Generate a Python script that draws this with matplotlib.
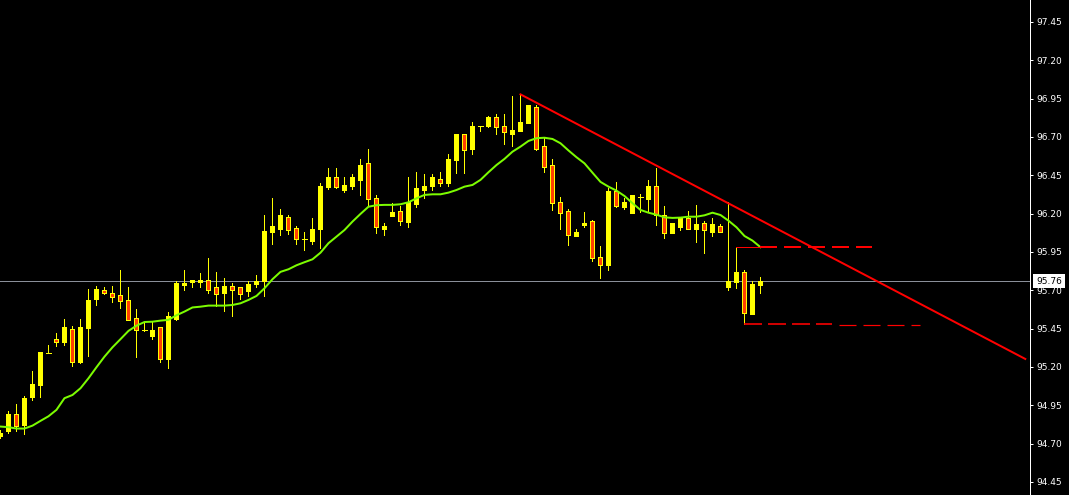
import matplotlib
matplotlib.use("Agg")
import matplotlib.pyplot as plt
from matplotlib.patches import Rectangle
import matplotlib.transforms as mtransforms

# ---------------- data ----------------
opens = [94.750, 94.785, 94.893, 94.824, 95.006, 95.085, 95.294, 95.383, 95.365, 95.448,
         95.235, 95.456, 95.645, 95.702, 95.683, 95.670, 95.637, 95.520, 95.439, 95.402,
         95.461, 95.254, 95.515, 95.737, 95.756, 95.756, 95.767, 95.722, 95.685, 95.728,
         95.722, 95.698, 95.741, 95.761, 96.082, 96.100, 96.178, 96.107, 96.037, 96.024,
         96.100, 96.376, 96.439, 96.356, 96.382, 96.422, 96.530, 96.302, 96.100, 96.185,
         96.217, 96.146, 96.263, 96.354, 96.380, 96.426, 96.400, 96.550, 96.720, 96.622,
         96.772, 96.772, 96.830, 96.772, 96.720, 96.739, 96.791, 96.896, 96.641, 96.517,
         96.276, 96.217, 96.054, 96.126, 96.152, 95.917, 95.865, 96.348, 96.243, 96.204,
         96.309, 96.296, 96.380, 96.191, 96.074, 96.113, 96.172, 96.100, 96.139, 96.080,
         96.120, 95.722, 95.754, 95.820, 95.546, 95.735]

highs = [94.789, 94.913, 94.959, 95.011, 95.174, 95.298, 95.343, 95.422, 95.513, 95.467,
         95.513, 95.709, 95.728, 95.720, 95.728, 95.833, 95.722, 95.578, 95.492, 95.493,
         95.463, 95.559, 95.759, 95.833, 95.767, 95.813, 95.911, 95.820, 95.780, 95.748,
         95.724, 95.761, 95.800, 96.191, 96.302, 96.230, 96.191, 96.120, 96.080, 96.172,
         96.400, 96.498, 96.498, 96.439, 96.459, 96.557, 96.622, 96.322, 96.139, 96.270,
         96.250, 96.439, 96.472, 96.459, 96.459, 96.472, 96.589, 96.720, 96.722, 96.798,
         96.774, 96.837, 96.850, 96.850, 96.967, 96.974, 96.909, 96.909, 96.693, 96.557,
         96.309, 96.230, 96.100, 96.211, 96.159, 95.989, 96.367, 96.407, 96.302, 96.324,
         96.328, 96.420, 96.498, 96.250, 96.141, 96.174, 96.217, 96.257, 96.152, 96.172,
         96.133, 96.276, 95.983, 95.833, 95.761, 95.787]

lows = [94.737, 94.770, 94.785, 94.763, 94.985, 95.006, 95.291, 95.339, 95.343, 95.207,
        95.226, 95.274, 95.606, 95.678, 95.626, 95.587, 95.505, 95.267, 95.435, 95.383,
        95.235, 95.195, 95.507, 95.704, 95.724, 95.722, 95.685, 95.600, 95.567, 95.535,
        95.645, 95.665, 95.724, 95.665, 96.004, 96.063, 96.069, 96.004, 95.963, 96.004,
        95.978, 96.363, 96.369, 96.343, 96.363, 96.324, 96.252, 96.076, 96.061, 96.183,
        96.126, 96.113, 96.243, 96.302, 96.354, 96.380, 96.380, 96.465, 96.465, 96.589,
        96.739, 96.765, 96.720, 96.654, 96.641, 96.737, 96.789, 96.615, 96.472, 96.224,
        96.100, 95.996, 96.052, 96.113, 95.891, 95.780, 95.833, 96.243, 96.230, 96.202,
        96.211, 96.211, 96.126, 96.041, 96.072, 96.093, 96.098, 96.015, 95.943, 96.054,
        96.078, 95.702, 95.715, 95.480, 95.544, 95.683]

closes = [94.770, 94.893, 94.817, 94.998, 95.089, 95.298, 95.294, 95.365, 95.461, 95.235,
          95.461, 95.637, 95.709, 95.685, 95.658, 95.632, 95.509, 95.439, 95.439, 95.443,
          95.254, 95.533, 95.748, 95.748, 95.767, 95.767, 95.704, 95.678, 95.728, 95.704,
          95.678, 95.741, 95.761, 96.087, 96.120, 96.191, 96.093, 96.037, 96.037, 96.100,
          96.380, 96.439, 96.376, 96.387, 96.439, 96.517, 96.298, 96.115, 96.120, 96.211,
          96.152, 96.276, 96.367, 96.380, 96.439, 96.400, 96.557, 96.720, 96.615, 96.772,
          96.772, 96.830, 96.765, 96.733, 96.746, 96.798, 96.909, 96.622, 96.504, 96.270,
          96.204, 96.061, 96.080, 96.139, 95.911, 95.865, 96.348, 96.250, 96.276, 96.322,
          96.309, 96.380, 96.191, 96.074, 96.139, 96.172, 96.100, 96.133, 96.093, 96.133,
          96.080, 95.761, 95.820, 95.552, 95.741, 95.761]

moving_avg = [94.811, 94.807, 94.798, 94.798, 94.817, 94.848, 94.878, 94.920, 94.996, 95.017,
              95.061, 95.126, 95.198, 95.267, 95.328, 95.381, 95.435, 95.469, 95.493, 95.495,
              95.502, 95.507, 95.537, 95.561, 95.588, 95.593, 95.600, 95.600, 95.600, 95.604,
              95.615, 95.637, 95.663, 95.713, 95.772, 95.820, 95.837, 95.863, 95.883, 95.902,
              95.945, 96.007, 96.050, 96.093, 96.148, 96.198, 96.245, 96.255, 96.257, 96.257,
              96.261, 96.274, 96.300, 96.322, 96.326, 96.326, 96.337, 96.354, 96.376, 96.387,
              96.420, 96.470, 96.517, 96.557, 96.604, 96.637, 96.674, 96.692, 96.695, 96.687,
              96.659, 96.612, 96.568, 96.528, 96.467, 96.407, 96.376, 96.350, 96.315, 96.268,
              96.224, 96.206, 96.193, 96.176, 96.172, 96.174, 96.180, 96.180, 96.189, 96.206,
              96.191, 96.154, 96.111, 96.054, 96.024, 95.981]

ytick_values = [94.45, 94.70, 94.95, 95.20, 95.45, 95.70, 95.95, 96.20, 96.45, 96.70, 96.95, 97.20, 97.45]
last_price = 95.76
trend_x = [65, 128.1]
trend_y = [96.978, 95.252]
resistance_level = 95.983
resistance_x = [92, 95, 109]
support_level = 95.480
support_level_ext = 95.474
support_x = [93, 104, 115]

# ---------------- drawing ----------------
plt.rcParams['lines.scale_dashes'] = False
PX = 72 / 100.0  # one pixel in points

fig = plt.figure(figsize=(10.69, 4.95), dpi=100, facecolor='black')
ax = fig.add_axes([0, 0, 1030 / 1069, 1])
ax.set_facecolor('black')
ax.set_xlim(-0.06, 128.69)
ax.set_ylim(94.3645, 97.5935)

YEL = '#ffff00'
BEAR = '#ff4000'

# current price line
ax.axhline(last_price, color='#8a8f99', lw=PX, zorder=1)

for i, (o, h, l, c) in enumerate(zip(opens, highs, lows, closes)):
    ax.vlines(i, l, h, color=YEL, lw=PX, zorder=3, antialiased=False)
    if abs(c - o) < 0.002:
        ax.hlines(o, i - 0.31, i + 0.31, color=YEL, lw=PX, zorder=4, antialiased=False)
    else:
        face = YEL if c > o else BEAR
        ax.add_patch(Rectangle((i - 0.25, min(o, c)), 0.5, abs(c - o),
                               facecolor=face, edgecolor=YEL, lw=PX, zorder=4,
                               antialiased=False))

ax.plot(range(len(moving_avg)), moving_avg, color='#7cfc00', lw=2 * PX, zorder=5)

ax.plot(trend_x, trend_y, color='#ff0000', lw=2 * PX, zorder=6)

# resistance level (thin start, then dashed)
ax.plot(resistance_x[:2], [resistance_level] * 2, color='#ff0000', lw=PX, zorder=6)
ax.plot(resistance_x[1:], [resistance_level] * 2, color='#ff0000', lw=2 * PX, zorder=6,
        linestyle=(0, (17 * PX, 7 * PX)))
# support level
ax.plot(support_x[:2], [support_level] * 2, color='#ff0000', lw=1.6 * PX, zorder=6,
        linestyle=(0, (18 * PX, 6 * PX)))
ax.plot(support_x[1:], [support_level_ext] * 2, color='#ff0000', lw=1.2 * PX, zorder=6,
        linestyle=(17 * PX, (17 * PX, 7 * PX)))

# axes styling
ax.set_xticks([])
ax.yaxis.tick_right()
ax.set_yticks(ytick_values)
ax.set_yticklabels([f"{v:.2f}" for v in ytick_values])
ax.tick_params(axis='y', colors='white', labelcolor='white', length=3 * PX, width=PX,
               pad=3 * PX, labelsize=6.5, direction='out')
for s in ['left', 'top', 'bottom']:
    ax.spines[s].set_visible(False)
ax.spines['right'].set_color('white')
ax.spines['right'].set_linewidth(PX)

trans = mtransforms.blended_transform_factory(ax.transAxes, ax.transData)
ax.text(1 + 6 / 1030, last_price, f"{last_price:.2f}", transform=trans, ha='left',
        va='center', fontsize=6.5, color='black', clip_on=False, zorder=10,
        bbox=dict(boxstyle='square,pad=0.3', facecolor='white', edgecolor='none'))

fig.savefig('out.png', dpi=100, facecolor='black')
